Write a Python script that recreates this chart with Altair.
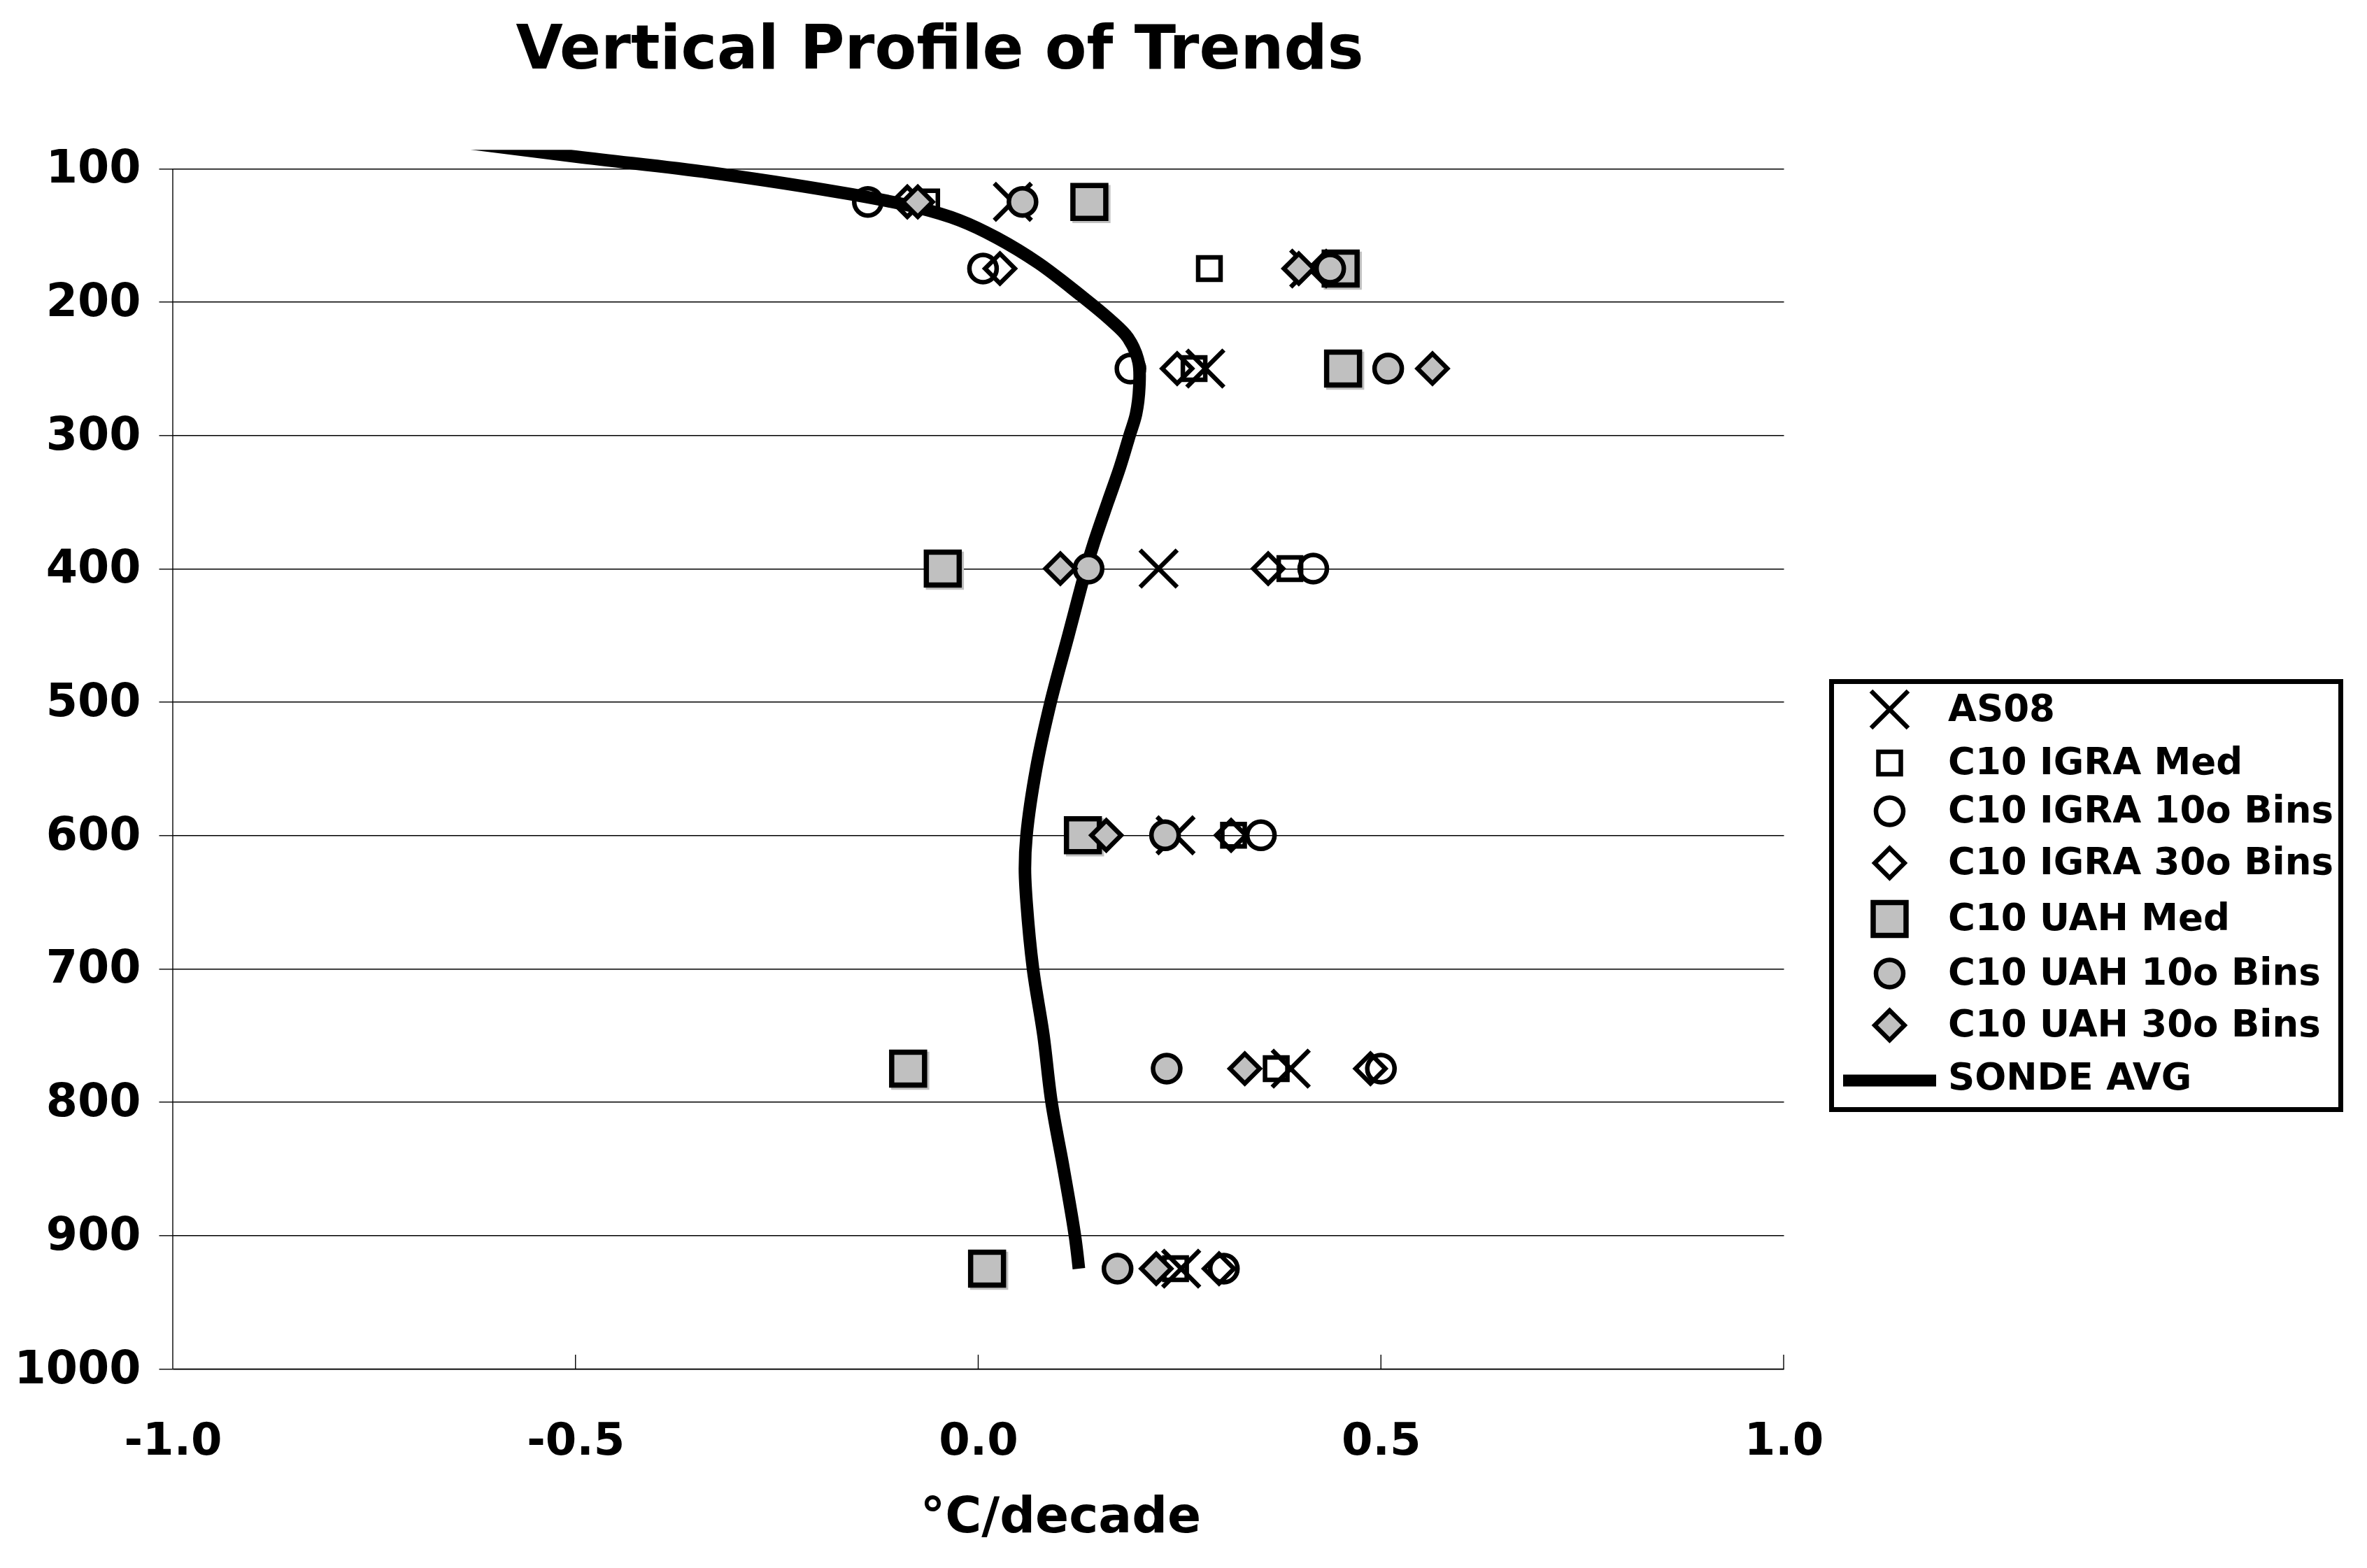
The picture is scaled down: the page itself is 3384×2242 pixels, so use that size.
import altair as alt
import pandas as pd

# ---------------- data ----------------
levels = [125, 175, 250, 400, 600, 775, 925]

series_names = [
    "AS08",
    "C10 IGRA Med",
    "C10 IGRA 10o Bins",
    "C10 IGRA 30o Bins",
    "C10 UAH Med",
    "C10 UAH 10o Bins",
    "C10 UAH 30o Bins",
    "SONDE AVG",
]

as08     = [0.043, 0.411, 0.282, 0.224, 0.245, 0.388, 0.252]
igra_med = [-0.064, 0.287, 0.268, 0.387, 0.317, 0.370, 0.245]
igra_10  = [-0.137, 0.006, 0.189, 0.416, 0.351, 0.500, 0.305]
igra_30  = [-0.088, 0.027, 0.247, 0.360, 0.314, 0.487, 0.299]
uah_med  = [0.138, 0.450, 0.453, -0.044, 0.130, -0.087, 0.011]
uah_10   = [0.055, 0.437, 0.509, 0.137, 0.232, 0.234, 0.173]
uah_30   = [-0.075, 0.398, 0.564, 0.102, 0.159, 0.331, 0.221]

sonde_x = [-0.80, -0.50, -0.333, -0.157, -0.076, -0.0235, 0.023, 0.075, 0.128,
           0.163, 0.186, 0.199, 0.200, 0.196, 0.188, 0.176, 0.161, 0.144, 0.134,
           0.112, 0.090, 0.072, 0.060, 0.058, 0.060, 0.068, 0.081, 0.091,
           0.106, 0.120, 0.125]
sonde_p = [68, 91, 103, 119.4, 129.1, 138.7, 151.9, 171, 195.5,
           213, 227, 245, 264, 284, 300, 324, 350, 380, 400,
           450, 500, 550, 600, 625, 650, 700, 750, 800,
           850, 900, 925]

x_tick_values = [-1.0, -0.5, 0.0, 0.5, 1.0]
y_tick_values = [100, 200, 300, 400, 500, 600, 700, 800, 900, 1000]

# ---------------- tables ----------------
rows = []
for name, vals in zip(series_names[:7], [as08, igra_med, igra_10, igra_30, uah_med, uah_10, uah_30]):
    for p, v in zip(levels, vals):
        rows.append({"series": name, "v": v, "p": p})
points = pd.DataFrame(rows)
shadow = points[points["series"] == "C10 UAH Med"]
sonde = pd.DataFrame({"v": sonde_x, "p": sonde_p, "i": list(range(len(sonde_x))),
                      "name": [series_names[-1]] * len(sonde_x)})
axis_line = pd.DataFrame({"v": [x_tick_values[0]], "p": [y_tick_values[0]], "p2": [y_tick_values[-1]]})
xticks = pd.DataFrame({"v": x_tick_values[1:], "p": [y_tick_values[-1]] * (len(x_tick_values) - 1)})

# ---------------- styles ----------------
FONT = "DejaVu Sans"
GRAY = "#c0c0c0"
shape_range = ["M-1,-1L1,1M-1,1L1,-1", "square", "circle", "diamond",
               "square", "circle", "diamond", "stroke"]
fill_range = ["transparent"] * 4 + [GRAY] * 3 + ["transparent"]
stroke_range = ["black"] * 7 + ["transparent"]
size_range = [2809, 1024, 1521, 1806, 2209, 1521, 1806, 1296]
sw_range = [6.5, 6.5, 6.5, 6.5, 7.5, 6.5, 6.5, 17]

W, H = 2303, 1742.7
x_scale = alt.Scale(domain=[-1, 1], nice=False, zero=False)
y_scale = alt.Scale(domain=[86, 1000], reverse=True, nice=False, zero=False)

x_axis = alt.Axis(
    values=x_tick_values,
    labelExpr="(datum.value < 0 ? '-' : '') + format(abs(datum.value), '.1f')",
    domain=True, domainColor="black", domainWidth=1.4,
    ticks=False, tickSize=0, grid=False,
    labelFont=FONT, labelFontSize=64, labelFontWeight="bold", labelColor="black",
    labelPadding=71, labelFlush=False, labelOverlap=False, labelLimit=600,
    title="°C/decade", titleFont=FONT, titleFontSize=71, titleFontWeight="bold",
    titleColor="black", titleX=1269, titleY=233, titleBaseline="alphabetic",
    titleAlign="center", titleAngle=0, titleLimit=1200,
)
y_axis = alt.Axis(
    values=y_tick_values, format="d",
    domain=False, ticks=True, tickSize=20, tickColor="black", tickWidth=1.4,
    grid=True, gridColor="black", gridWidth=1.4, gridOpacity=1,
    labelFont=FONT, labelFontSize=65, labelFontWeight="bold", labelColor="black",
    labelPadding=26, labelFlush=False, labelOverlap=False, labelLimit=600,
    title=None,
)

X = alt.X("v:Q", scale=x_scale, axis=x_axis)
Y = alt.Y("p:Q", scale=y_scale, axis=y_axis)

legend = alt.Legend(
    title=None, orient="none", direction="vertical", columns=1,
    legendX=2371.5, legendY=760.2,
    padding=10, rowPadding=7,
    symbolOffset=43, labelOffset=53.5,
    labelFont=FONT, labelFontSize=53, labelFontWeight="bold", labelColor="black",
    labelLimit=2000, strokeColor="black",
    symbolOpacity=1, zindex=0,
)

# second legend: only the long thick line sample for the SONDE AVG entry
line_legend = alt.Legend(
    title=None, orient="none", direction="vertical", columns=1,
    legendX=2379.5, legendY=1255.7,
    padding=0, symbolOffset=0,
    symbolType="stroke", symbolSize=17689, symbolStrokeWidth=17,
    symbolStrokeColor="black", symbolOpacity=1,
    labelFont=FONT, labelFontSize=53, labelFontWeight="bold", labelOpacity=0,
    labelExpr="''",
    strokeColor="transparent", zindex=1,
)

# ---------------- layers ----------------
yaxis_rule = alt.Chart(axis_line).mark_rule(color="black", strokeWidth=1.4).encode(
    x=X, y=Y, y2="p2:Q")

xtick_rules = alt.Chart(xticks).mark_rule(color="black", strokeWidth=1.4, y2Offset=-20).encode(
    x=X, y=Y, y2="p:Q")

line = alt.Chart(sonde).mark_line(
    strokeWidth=18, interpolate="catmull-rom", clip=True
).encode(
    x=X, y=Y, order=alt.Order("i:Q"),
    color=alt.Color("name:N", scale=alt.Scale(domain=series_names[-1:], range=["black"]),
                    legend=line_legend),
)

shadow_layer = alt.Chart(shadow).mark_point(
    shape="square", filled=True, fill=GRAY, strokeWidth=0, opacity=1,
    size=2970, xOffset=3, yOffset=3,
).encode(x=X, y=Y)

pts = alt.Chart(points).mark_point(filled=True, opacity=1).encode(
    x=X, y=Y,
    shape=alt.Shape("series:N", scale=alt.Scale(domain=series_names, range=shape_range), legend=legend),
    fill=alt.Fill("series:N", scale=alt.Scale(domain=series_names, range=fill_range), legend=legend),
    stroke=alt.Stroke("series:N", scale=alt.Scale(domain=series_names, range=stroke_range), legend=legend),
    size=alt.Size("series:N", scale=alt.Scale(type="ordinal", domain=series_names, range=size_range), legend=legend),
    strokeWidth=alt.StrokeWidth("series:N", scale=alt.Scale(type="ordinal", domain=series_names, range=sw_range), legend=legend),
)

chart = alt.layer(yaxis_rule, xtick_rules, line, shadow_layer, pts).properties(
    width=W, height=H,
    padding={"left": 239, "top": 206.3, "right": 820, "bottom": 270},
    autosize=alt.AutoSizeParams(type="none"),
    background="white",
    title=alt.TitleParams(
        "Vertical Profile of Trends", font=FONT, fontSize=87, fontWeight="bold",
        color="black", anchor="middle", frame="group", baseline="alphabetic",
        offset=24, dx=-55,
    ),
).configure_view(stroke="transparent").configure_legend(strokeWidth=7)

chart.save("out.html", embed_options={"renderer": "svg", "actions": False})
